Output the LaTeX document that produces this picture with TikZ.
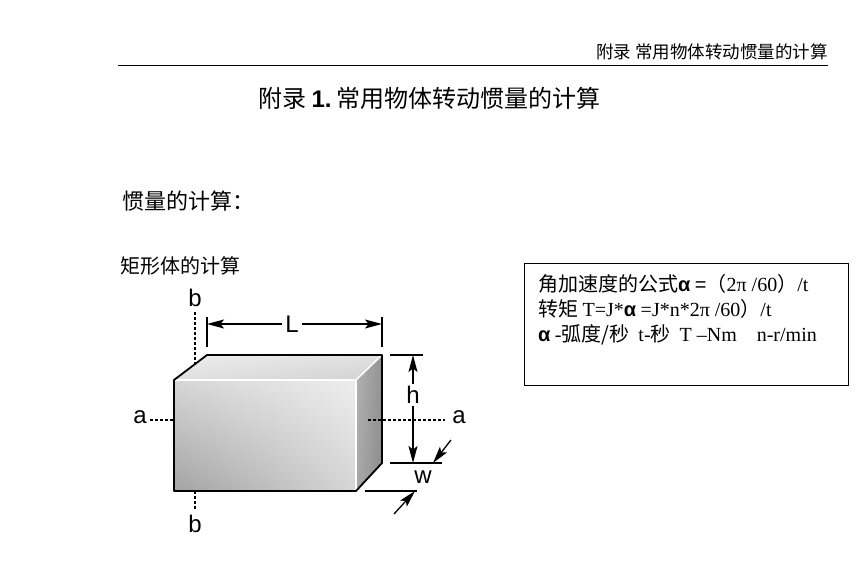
\documentclass[tikz,border=0pt]{standalone}
\usepackage{fontspec}
\setmainfont{Noto Sans CJK SC}
\newfontfamily\tms{Liberation Serif}
\newfontfamily\arl{Liberation Sans}
\usetikzlibrary{arrows.meta,shadings}

\begin{document}
\begin{tikzpicture}[x=1pt,y=-1pt,
    txt/.style={inner sep=0pt},
    lbl/.style={inner sep=0pt,font=\arl\fontsize{24}{24}\selectfont},
    dim/.style={line width=1.3pt,-{Stealth[length=17pt,width=9pt,inset=3.5pt]}},
    ext/.style={line width=1.2pt},
    achse/.style={line width=1.4pt,dash pattern=on 3pt off 2pt}]
    \useasboundingbox (0,0) rectangle (857,562);
    %Kopfzeile
    \node[txt,anchor=east,font=\fontsize{17.5}{17.5}\selectfont] (kopf) at (828,52) {附录\ 常用物体转动惯量的计算};
    \draw[line width=0.8pt] (118,65) -- (828,65);
    \node[txt,anchor=west,font=\fontsize{24}{24}\selectfont] (titel) at (258,98) {附录\ {\arl\bfseries 1.}\ 常用物体转动惯量的计算};
    \node[txt,anchor=west,font=\fontsize{22}{22}\selectfont] (abschnitt) at (122,201) {惯量的计算：};
    \node[txt,anchor=west,font=\fontsize{20}{20}\selectfont] (quader) at (120,266) {矩形体的计算};
    %Quader
    \shade[upper left=black!7,upper right=black!12,lower left=black!12,lower right=black!18] (174,380) -- (207,355) -- (382,355) -- (356,380) -- cycle;
    \shade[upper left=black!30,upper right=black!42,lower left=black!34,lower right=black!45] (356,380) -- (382,355) -- (382,463) -- (356,491) -- cycle;
    \shade[upper left=black!16,upper right=black!7,lower left=black!36,lower right=black!16] (174,380) rectangle (356,491);
    \draw[white,line width=1.5pt] (174,380) -- (356,380) -- (356,491);
    \draw[white,line width=1.5pt] (356,380) -- (382,355);
    \draw[line width=1.8pt,line join=round] (174,380) -- (207,355) -- (382,355) -- (382,463) -- (356,491) -- (174,491) -- cycle;
    %Achsen
    \draw[achse] (195,312) -- (195,364);
    \draw[achse] (195,491) -- (195,510);
    \draw[achse] (150,420) -- (174,420);
    \draw[achse] (368,420) -- (445,420);
    \node[lbl] (b1) at (195,298) {b};
    \node[lbl] (b2) at (195,524) {b};
    \node[lbl] (a1) at (140,417) {a};
    \node[lbl] (a2) at (459,417) {a};
    %Masse L
    \draw[ext] (207,317) -- (207,347);
    \draw[ext] (382,317) -- (382,347);
    \node[lbl] (L) at (292,324) {L};
    \coordinate (L1) at (207,324);
    \coordinate (L2) at (382,324);
    \draw[dim] ([xshift=-3pt]L.west) -- (L1);
    \draw[dim] ([xshift=3pt]L.east) -- (L2);
    %Masse h
    \draw[ext] (390,355) -- (423,355);
    \draw[ext] (390,463) -- (442,463);
    \node[lbl] (h) at (413,395) {h};
    \coordinate (h1) at (413,355);
    \coordinate (h2) at (413,463);
    \draw[dim] ([yshift=2pt]h.north) -- (h1);
    \draw[dim] ([yshift=-2pt]h.south) -- (h2);
    %Masse w
    \draw[ext] (365,491) -- (417,491);
    \node[lbl] (w) at (423,477) {w};
    \coordinate (w1) at (433,463);
    \coordinate (w2) at (415,491);
    \draw[dim] (451,440) -- (w1);
    \draw[dim] (394,514) -- (w2);
    %Formeln
    \draw[line width=0.8pt] (524,263) rectangle (848,385);
    \node[txt,anchor=west,font=\fontsize{20}{20}\selectfont] (zeile1) at (538,284) {角加速度的公式{\arl\bfseries α} {\arl =}（{\tms 2π /60}）{\tms /t}};
    \node[txt,anchor=west,font=\fontsize{20}{20}\selectfont] (zeile2) at (538,309) {转矩\ {\tms T=J*}{\arl\bfseries α}\ {\tms =J*n*2π /60}）{\tms /t}};
    \node[txt,anchor=west,font=\fontsize{20}{20}\selectfont] (zeile3) at (538,335) {{\arl\bfseries α}\ {\tms -}弧度/秒\ \ {\tms t-}秒\ \ {\tms T –Nm\ \ \ \ n-r/min}};
\end{tikzpicture}
\end{document}
